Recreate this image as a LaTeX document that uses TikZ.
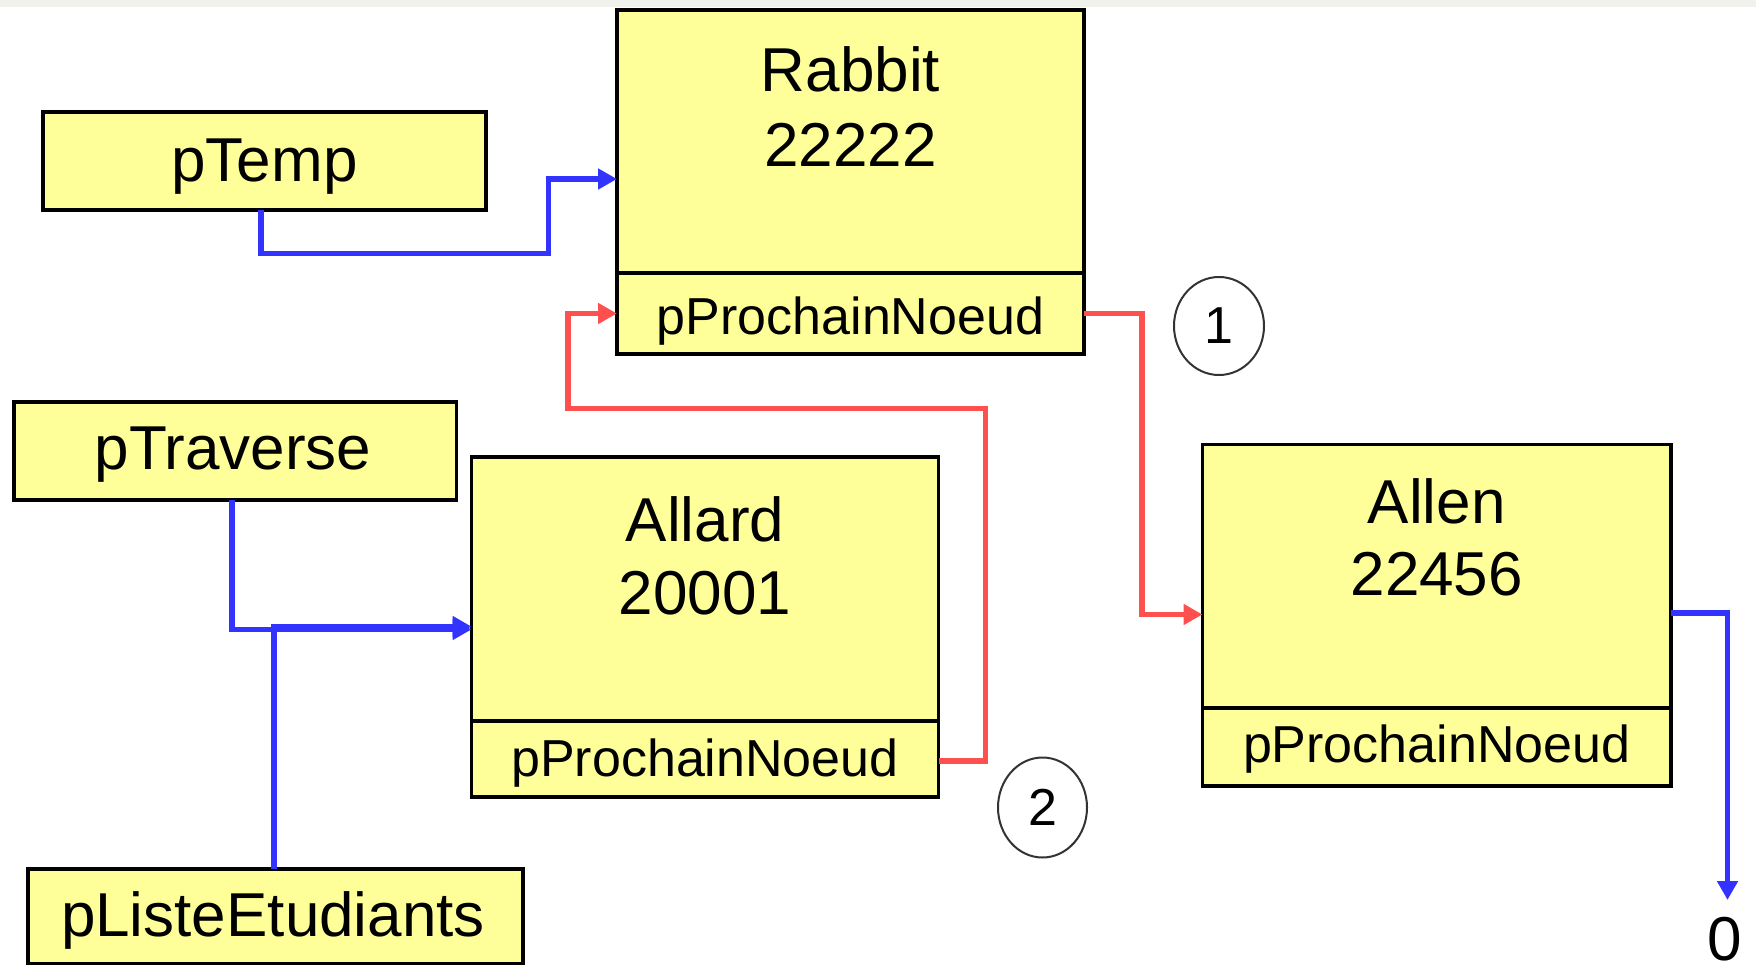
\documentclass[tikz,border=0pt]{standalone}
\usepackage{fontspec}
\setmainfont{Liberation Sans}
\usetikzlibrary{arrows.meta,shapes.geometric}
\definecolor{boxyellow}{RGB}{255,255,153}
\definecolor{ptrblue}{RGB}{51,51,255}
\definecolor{ptrred}{RGB}{255,80,80}
\definecolor{topband}{RGB}{242,242,236}
\begin{document}
\begin{tikzpicture}[x=1pt,y=-1pt,
  cell/.style={draw=black,line width=3.5pt,fill=boxyellow,inner sep=0pt,outer sep=0pt,anchor=north west},
  big/.style={font=\fontsize{62pt}{70pt}\selectfont,inner sep=0pt,anchor=base},
  small/.style={font=\fontsize{52pt}{60pt}\selectfont,inner sep=0pt,anchor=base},
  bluewire/.style={draw=ptrblue,line width=5.5pt,-{Triangle[length=19pt,width=20pt]}},
  redwire/.style={draw=ptrred,line width=5.5pt,-{Triangle[length=19pt,width=20pt]}},
  tag/.style={ellipse,draw=black!80,line width=2pt,inner sep=0pt,font=\fontsize{52pt}{60pt}\selectfont}]
\useasboundingbox (0,0) rectangle (1756,971);
\fill[white] (0,0) rectangle (1756,971);
\fill[topband] (0,0) rectangle (1756,7);

% pointer boxes
\node[cell,minimum width=443pt,minimum height=98pt] (ptemp) at (43,112) {};
\node[big] (ptemptxt) at (264.5,182) {pTemp};
\node[cell,minimum width=442.5pt,minimum height=98pt] (ptraverse) at (14,402) {};
\node[big] (ptraversetxt) at (233,469) {pTraverse};
\node[cell,minimum width=495pt,minimum height=94.5pt] (pliste) at (28,869) {};
\node[big] (plistetxt) at (273,936) {pListeEtudiants};

% Rabbit
\node[cell,minimum width=467pt,minimum height=263pt] (rabbit) at (617,10) {};
\node[cell,minimum width=467pt,minimum height=81pt] (rabbitp) at (617,273) {};
\node[big] (rabbitname) at (850.5,92) {Rabbit};
\node[big] (rabbitnum) at (850.5,166) {22222};
\node[small] (rabbitptr) at (850.5,334) {pProchainNoeud};

% Allard
\node[cell,minimum width=467pt,minimum height=264pt] (allard) at (471.5,457) {};
\node[cell,minimum width=467pt,minimum height=76pt] (allardp) at (471.5,721) {};
\node[big] (allardname) at (705,541) {Allard};
\node[big] (allardnum) at (705,614) {20001};
\node[small] (allardptr) at (705,776) {pProchainNoeud};

% Allen
\node[cell,minimum width=468.5pt,minimum height=263.5pt] (allen) at (1202.5,444.5) {};
\node[cell,minimum width=468.5pt,minimum height=78pt] (allenp) at (1202.5,708) {};
\node[big] (allenname) at (1436.75,523) {Allen};
\node[big] (allennum) at (1436.75,595) {22456};
\node[small] (allenptr) at (1436.75,762) {pProchainNoeud};

% step tags
\node[tag,minimum width=90pt,minimum height=98pt] (tag1) at (1219,326) {1};
\node[tag,minimum width=89pt,minimum height=100pt] (tag2) at (1042.5,807.5) {2};

% null
\node[big] (zero) at (1725,960) {0};
\coordinate (nullend) at (1727.5,900);

% connectors
\draw[bluewire] ([xshift=-3.5pt]ptemp.south) -- (261,253.5) -- (548.5,253.5) -- (548.5,179) -- (rabbit.west |- 0,179);
\draw[redwire] (rabbitp.east) -- (1142,313.5) -- (1142,614.5) -- (allen.west |- 0,614.5);
\draw[redwire] (allardp.east |- 0,761) -- (985.5,761) -- (985.5,408.5) -- (568,408.5) -- (568,313.5) -- (rabbitp.west);
\draw[bluewire] (ptraverse.south -| 232,0) -- (232,629.5) -- (allard.west |- 0,629.5);
\draw[bluewire] (pliste.north -| 274,0) -- (274,626.5) -- (allard.west |- 0,626.5);
\draw[bluewire] (allen.east |- 0,613) -- (1727.5,613) -- (nullend);
\end{tikzpicture}
\end{document}
